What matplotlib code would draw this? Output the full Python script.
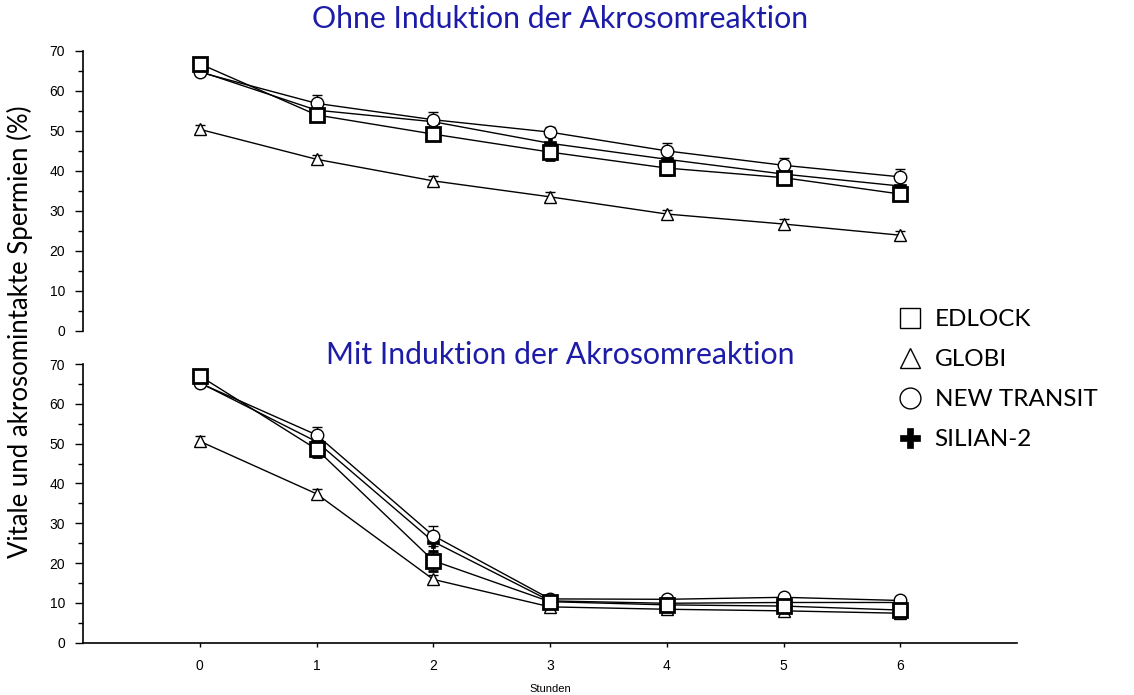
import numpy as np
import matplotlib
matplotlib.use("Agg")
import matplotlib.pyplot as plt
from matplotlib.lines import Line2D
from matplotlib.ticker import MultipleLocator

# Hours
hours = [0, 1, 2, 3, 4, 5, 6]

# Ohne Induktion (top panel)
top_edlock = [66.8, 54.0, 49.2, 44.7, 40.7, 38.3, 34.2]
top_globi = [50.4, 42.9, 37.5, 33.5, 29.2, 26.7, 23.9]
top_transit = [64.7, 56.9, 52.8, 49.7, 45.0, 41.4, 38.5]
top_silian = [64.9, 55.2, 52.3, 46.9, 42.9, 39.2, 36.2]

top_edlock_err = [1.5, 1.5, 1.5, 2.0, 1.8, 1.5, 1.5]
top_globi_err = [1.2, 1.0, 1.2, 1.2, 1.0, 1.2, 1.0]
top_transit_err = [1.0, 2.0, 2.0, 1.2, 2.0, 1.8, 2.0]
top_silian_err = [1.0, 1.5, 1.5, 1.5, 1.5, 1.2, 1.2]

# Mit Induktion (bottom panel)
bot_edlock = [67.0, 48.6, 20.6, 10.3, 9.5, 9.2, 8.2]
bot_globi = [50.6, 37.4, 15.9, 9.0, 8.4, 8.0, 7.4]
bot_transit = [65.2, 52.2, 26.9, 11.0, 10.9, 11.4, 10.6]
bot_silian = [65.3, 50.5, 25.4, 10.5, 9.9, 10.1, 10.1]

bot_edlock_err = [1.5, 2.0, 2.5, 1.5, 1.0, 1.0, 1.0]
bot_globi_err = [1.2, 1.2, 1.0, 0.8, 0.8, 0.8, 0.8]
bot_transit_err = [1.0, 2.0, 2.5, 0.8, 0.8, 0.8, 0.8]
bot_silian_err = [1.0, 1.5, 2.5, 1.0, 0.8, 0.8, 0.8]

labels = ["EDLOCK", "GLOBI", "NEW TRANSIT", "SILIAN-2"]
title_color = "#1C1CA8"

styles = {
    "EDLOCK": dict(marker="s", ms=10.5, mec="black", mfc="white", mew=2.0),
    "GLOBI": dict(marker="^", ms=9, mec="black", mfc="white", mew=1.0),
    "NEW TRANSIT": dict(marker="o", ms=9, mec="black", mfc="white", mew=1.0),
    "SILIAN-2": dict(marker="P", ms=9, mec="black", mfc="black", mew=0.5),
}
zorders = {"SILIAN-2": 2, "GLOBI": 3, "NEW TRANSIT": 4, "EDLOCK": 5}

fig = plt.figure(figsize=(11.34, 6.95), dpi=100)
left, width = 83 / 1134, 934 / 1134
ax_top = fig.add_axes([left, 1 - 330.7 / 695, width, (330.7 - 51) / 695])
ax_bot = fig.add_axes([left, 1 - 642.7 / 695, width, (642.7 - 364) / 695])


def draw(ax, series):
    for name, vals, errs in series:
        ax.errorbar(hours, vals, yerr=errs, color="black", lw=1.0,
                    elinewidth=0.9, capsize=3.5, capthick=0.9,
                    zorder=zorders[name], **styles[name])


draw(ax_top, [("SILIAN-2", top_silian, top_silian_err),
              ("GLOBI", top_globi, top_globi_err),
              ("NEW TRANSIT", top_transit, top_transit_err),
              ("EDLOCK", top_edlock, top_edlock_err)])
draw(ax_bot, [("SILIAN-2", bot_silian, bot_silian_err),
              ("GLOBI", bot_globi, bot_globi_err),
              ("NEW TRANSIT", bot_transit, bot_transit_err),
              ("EDLOCK", bot_edlock, bot_edlock_err)])

for ax in (ax_top, ax_bot):
    ax.set_xlim(-1, 7)
    ax.set_ylim(0, 70)
    ax.yaxis.set_major_locator(MultipleLocator(10))
    ax.yaxis.set_minor_locator(MultipleLocator(5))
    ax.tick_params(axis="y", which="major", length=6, width=1, pad=7,
                   labelsize=10)
    ax.tick_params(axis="y", which="minor", length=3.5, width=1)
    for s in ("top", "right"):
        ax.spines[s].set_visible(False)
    ax.spines["left"].set_linewidth(1.2)
    for lab in ax.get_yticklabels():
        lab.set_family("Liberation Sans")

ax_top.spines["bottom"].set_visible(False)
ax_top.set_xticks([])

ax_bot.spines["bottom"].set_linewidth(1.2)
ax_bot.set_xticks(hours)
ax_bot.tick_params(axis="x", length=3, width=1, pad=9, labelsize=10)
for lab in ax_bot.get_xticklabels():
    lab.set_family("Liberation Sans")
ax_bot.set_xlabel("Stunden", family="Liberation Sans", fontsize=8, labelpad=8)

fig.text(560 / 1134, 1 - 19 / 695, "Ohne Induktion der Akrosomreaktion",
         ha="center", va="center", color=title_color, fontsize=21.8,
         family="Lato")
fig.text(560 / 1134, 1 - 355 / 695, "Mit Induktion der Akrosomreaktion",
         ha="center", va="center", color=title_color, fontsize=21.8,
         family="Lato")
fig.text(20 / 1134, 1 - 332 / 695, "Vitale und akrosomintakte Spermien (%)",
         rotation=90, ha="center", va="center", fontsize=18.5, family="Lato")

handles = [
    Line2D([], [], ls="none", marker="s", ms=15, mfc="white", mec="black", mew=1.0),
    Line2D([], [], ls="none", marker="^", ms=15, mfc="white", mec="black", mew=1.0),
    Line2D([], [], ls="none", marker="o", ms=15, mfc="white", mec="black", mew=1.0),
    Line2D([], [], ls="none", marker="P", ms=15, mfc="black", mec="black", mew=0.5),
]
fig.legend(handles, labels, loc="upper left",
           bbox_to_anchor=(886 / 1134, 1 - 297 / 695), frameon=False,
           prop={"family": "Lato", "size": 17.5}, handlelength=1.0,
           handletextpad=0.5, labelspacing=0.78, borderpad=0)

fig.savefig("out.png", dpi=100)
